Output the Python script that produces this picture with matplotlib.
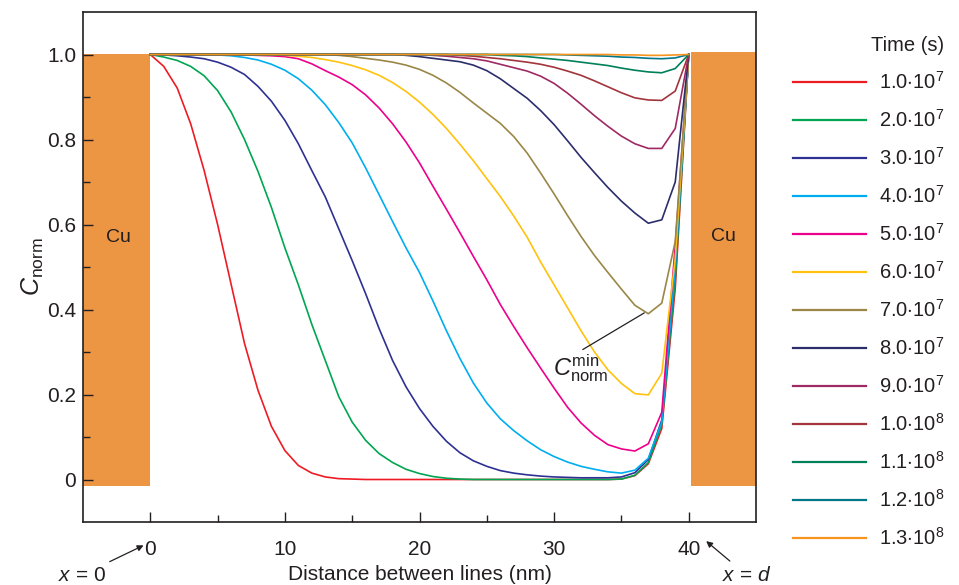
import matplotlib
matplotlib.use("Agg")
import matplotlib.pyplot as plt
from matplotlib.patches import Rectangle

plt.rcParams['font.family'] = ['Liberation Sans', 'DejaVu Sans']
plt.rcParams['mathtext.fontset'] = 'custom'
plt.rcParams['mathtext.rm'] = 'Liberation Sans'
plt.rcParams['mathtext.it'] = 'Liberation Sans:italic'
plt.rcParams['mathtext.bf'] = 'Liberation Sans:bold'

# distance grid (nm), one point per nm
distance = list(range(41))

c_1_0e7 = [1.0, 0.972, 0.921, 0.837, 0.727, 0.60, 0.46, 0.32, 0.21, 0.125,
           0.068, 0.033, 0.015, 0.006, 0.002, 0.001, 0.0, 0.0, 0.0, 0.0,
           0.0, 0.0, 0.0, 0.0, 0.0, 0.0, 0.0, 0.0, 0.0, 0.0,
           0.0, 0.0, 0.0, 0.0, 0.0, 0.001, 0.009, 0.037, 0.12, 0.45,
           1.0]
c_2_0e7 = [1.0, 0.994, 0.986, 0.972, 0.950, 0.915, 0.865, 0.80, 0.725, 0.64,
           0.545, 0.458, 0.365, 0.28, 0.195, 0.135, 0.092, 0.061, 0.04, 0.024,
           0.014, 0.007, 0.003, 0.001, 0.0, 0.0, 0.0, 0.0, 0.0, 0.0,
           0.0, 0.0, 0.0, 0.0, 0.0, 0.001, 0.01, 0.04, 0.13, 0.47,
           1.0]
c_3_0e7 = [1.0, 0.999, 0.997, 0.994, 0.99, 0.982, 0.97, 0.953, 0.925, 0.89,
           0.845, 0.79, 0.727, 0.665, 0.59, 0.515, 0.437, 0.355, 0.28, 0.218,
           0.167, 0.125, 0.09, 0.063, 0.044, 0.031, 0.021, 0.015, 0.011, 0.008,
           0.006, 0.005, 0.004, 0.004, 0.004, 0.006, 0.016, 0.047, 0.14, 0.5,
           1.0]
c_4_0e7 = [1.0, 1.0, 1.0, 1.0, 0.999, 0.999, 0.997, 0.993, 0.987, 0.977,
           0.963, 0.943, 0.916, 0.882, 0.84, 0.792, 0.733, 0.67, 0.607, 0.545,
           0.487, 0.42, 0.35, 0.285, 0.227, 0.18, 0.143, 0.115, 0.091, 0.07,
           0.054, 0.041, 0.031, 0.024, 0.018, 0.015, 0.022, 0.05, 0.135, 0.5,
           1.0]
c_5_0e7 = [1.0, 1.0, 1.0, 1.0, 1.0, 1.0, 0.999, 0.999, 0.998, 0.997,
           0.995, 0.99, 0.978, 0.962, 0.947, 0.929, 0.905, 0.874, 0.837, 0.794,
           0.745, 0.69, 0.636, 0.581, 0.525, 0.47, 0.412, 0.36, 0.31, 0.262,
           0.215, 0.17, 0.133, 0.104, 0.082, 0.072, 0.067, 0.084, 0.158, 0.55,
           1.0]
c_6_0e7 = [1.0, 1.0, 1.0, 1.0, 1.0, 1.0, 1.0, 1.0, 1.0, 1.0,
           0.998, 0.996, 0.993, 0.988, 0.982, 0.974, 0.964, 0.951, 0.934, 0.913,
           0.888, 0.859, 0.826, 0.789, 0.75, 0.708, 0.666, 0.62, 0.57, 0.512,
           0.458, 0.404, 0.35, 0.30, 0.258, 0.226, 0.202, 0.199, 0.25, 0.52,
           1.0]
c_7_0e7 = [1.0, 1.0, 1.0, 1.0, 1.0, 1.0, 1.0, 1.0, 1.0, 1.0,
           1.0, 1.0, 1.0, 1.0, 0.998, 0.995, 0.991, 0.987, 0.982, 0.975,
           0.965, 0.951, 0.933, 0.911, 0.886, 0.862, 0.838, 0.807, 0.768, 0.721,
           0.672, 0.621, 0.572, 0.527, 0.487, 0.448, 0.41, 0.39, 0.415, 0.56,
           1.0]
c_8_0e7 = [1.0, 1.0, 1.0, 1.0, 1.0, 1.0, 1.0, 1.0, 1.0, 1.0,
           1.0, 1.0, 1.0, 1.0, 1.0, 1.0, 1.0, 1.0, 1.0, 0.998,
           0.995, 0.991, 0.987, 0.983, 0.975, 0.962, 0.943, 0.92, 0.897, 0.868,
           0.835, 0.797, 0.758, 0.722, 0.687, 0.655, 0.627, 0.603, 0.611, 0.70,
           1.0]
c_9_0e7 = [1.0, 1.0, 1.0, 1.0, 1.0, 1.0, 1.0, 1.0, 1.0, 1.0,
           1.0, 1.0, 1.0, 1.0, 1.0, 1.0, 1.0, 1.0, 1.0, 1.0,
           1.0, 0.998, 0.996, 0.993, 0.99, 0.985, 0.977, 0.969, 0.961, 0.949,
           0.932, 0.909, 0.883, 0.856, 0.831, 0.808, 0.79, 0.779, 0.779, 0.826,
           1.0]
c_1_0e8 = [1.0, 1.0, 1.0, 1.0, 1.0, 1.0, 1.0, 1.0, 1.0, 1.0,
           1.0, 1.0, 1.0, 1.0, 1.0, 1.0, 1.0, 1.0, 1.0, 1.0,
           1.0, 1.0, 1.0, 0.998, 0.996, 0.993, 0.99, 0.986, 0.982, 0.977,
           0.97, 0.961, 0.951, 0.938, 0.924, 0.91, 0.898, 0.893, 0.892, 0.914,
           1.0]
c_1_1e8 = [1.0, 1.0, 1.0, 1.0, 1.0, 1.0, 1.0, 1.0, 1.0, 1.0,
           1.0, 1.0, 1.0, 1.0, 1.0, 1.0, 1.0, 1.0, 1.0, 1.0,
           1.0, 1.0, 1.0, 1.0, 1.0, 1.0, 0.998, 0.997, 0.995, 0.992,
           0.989, 0.986, 0.982, 0.978, 0.974, 0.968, 0.963, 0.959, 0.957, 0.967,
           1.0]
c_1_2e8 = [1.0, 1.0, 1.0, 1.0, 1.0, 1.0, 1.0, 1.0, 1.0, 1.0,
           1.0, 1.0, 1.0, 1.0, 1.0, 1.0, 1.0, 1.0, 1.0, 1.0,
           1.0, 1.0, 1.0, 1.0, 1.0, 1.0, 1.0, 1.0, 1.0, 1.0,
           1.0, 0.999, 0.998, 0.997, 0.996, 0.994, 0.993, 0.991, 0.99, 0.992,
           1.0]
c_1_3e8 = [1.0, 1.0, 1.0, 1.0, 1.0, 1.0, 1.0, 1.0, 1.0, 1.0,
           1.0, 1.0, 1.0, 1.0, 1.0, 1.0, 1.0, 1.0, 1.0, 1.0,
           1.0, 1.0, 1.0, 1.0, 1.0, 1.0, 1.0, 1.0, 1.0, 1.0,
           1.0, 1.0, 1.0, 1.0, 1.0, 0.999, 0.999, 0.998, 0.998, 0.999,
           1.0]

series = [c_1_0e7, c_2_0e7, c_3_0e7, c_4_0e7, c_5_0e7, c_6_0e7, c_7_0e7,
          c_8_0e7, c_9_0e7, c_1_0e8, c_1_1e8, c_1_2e8, c_1_3e8]
labels = [r'1.0$\cdot$10$^7$', r'2.0$\cdot$10$^7$', r'3.0$\cdot$10$^7$',
          r'4.0$\cdot$10$^7$', r'5.0$\cdot$10$^7$', r'6.0$\cdot$10$^7$',
          r'7.0$\cdot$10$^7$', r'8.0$\cdot$10$^7$', r'9.0$\cdot$10$^7$',
          r'1.0$\cdot$10$^8$', r'1.1$\cdot$10$^8$', r'1.2$\cdot$10$^8$',
          r'1.3$\cdot$10$^8$']
colors = ['#ED1C24', '#00A651', '#2E3192', '#00AEEF', '#EC008C', '#FFC20E',
          '#9A8747', '#2B2E6B', '#9E2A63', '#A3343C', '#00805A', '#00788A',
          '#F7941D']

xticks = [0, 10, 20, 30, 40]
yticks = [0, 0.2, 0.4, 0.6, 0.8, 1.0]
yticklabels = ['0', '0.2', '0.4', '0.6', '0.8', '1.0']

cu_color = '#EC9543'
ink = '#231F20'

fig = plt.figure(figsize=(9.59, 5.85), dpi=100)
ax = fig.add_axes([83 / 959, 63 / 585, 673 / 959, 510 / 585])

# copper lines on both sides
ax.add_patch(Rectangle((-5, -0.016), 4.95, 1.018, color=cu_color, lw=0, zorder=1))
ax.add_patch(Rectangle((40.15, -0.016), 4.85, 1.021, color=cu_color, lw=0, zorder=1))
ax.text(-2.4, 0.57, 'Cu', fontsize=14, ha='center', va='center', color=ink)
ax.text(42.6, 0.572, 'Cu', fontsize=14, ha='center', va='center', color=ink)

for vals, lab, col in zip(series, labels, colors):
    ax.plot(distance, vals, color=col, lw=1.2, label=lab, zorder=3)

ax.set_xlim(-5, 45)
ax.set_ylim(-0.1, 1.1)
ax.set_xticks(xticks)
ax.set_xticks([5, 15, 25, 35], minor=True)
ax.set_yticks(yticks)
ax.set_yticklabels(yticklabels)
ax.set_yticks([0.1, 0.3, 0.5, 0.7, 0.9], minor=True)
ax.tick_params(which='both', direction='in', colors=ink, labelsize=15, width=1.0)
ax.tick_params(which='major', length=7.5)
ax.tick_params(which='minor', length=5)
ax.tick_params(axis='x', pad=13)
ax.tick_params(axis='y', pad=5)
for sp in ax.spines.values():
    sp.set_color(ink)
    sp.set_linewidth(1.2)

ax.set_xlabel('Distance between lines (nm)', fontsize=15, color=ink, labelpad=4)
ax.set_ylabel(r'$C_{\mathrm{norm}}$', fontsize=18, color=ink, labelpad=1)

arrow = dict(arrowstyle='-|>', color=ink, lw=0.9, mutation_scale=9, shrinkA=2, shrinkB=0)
ax.annotate(r'$x$ = 0', xy=(-0.5, -0.155), xytext=(-5.1, -0.225), fontsize=15,
            ha='center', va='center', color=ink, arrowprops=arrow, annotation_clip=False)
ax.annotate(r'$x$ = $d$', xy=(41.3, -0.145), xytext=(44.3, -0.225), fontsize=15,
            ha='center', va='center', color=ink, arrowprops=arrow, annotation_clip=False)
ax.annotate(r'$C_{\mathrm{norm}}^{\mathrm{min}}$', xy=(36.7, 0.392), xytext=(32.0, 0.262),
            fontsize=17, ha='center', va='center', color=ink,
            arrowprops=dict(arrowstyle='-', color=ink, lw=0.9, shrinkA=0, shrinkB=0,
                            relpos=(0.4, 0.95)))

leg = fig.legend(loc='upper left', bbox_to_anchor=(793 / 959, 1 - 36 / 585),
                 frameon=False, fontsize=14.5, title='Time (s)', title_fontsize=14.5,
                 handlelength=3.6, handletextpad=0.65, labelspacing=0.8,
                 borderpad=0, borderaxespad=0, alignment='right')
for line in leg.get_lines():
    line.set_linewidth(1.6)
for t in leg.get_texts():
    t.set_color(ink)
leg.get_title().set_color(ink)

fig.savefig('out.png', dpi=100)
